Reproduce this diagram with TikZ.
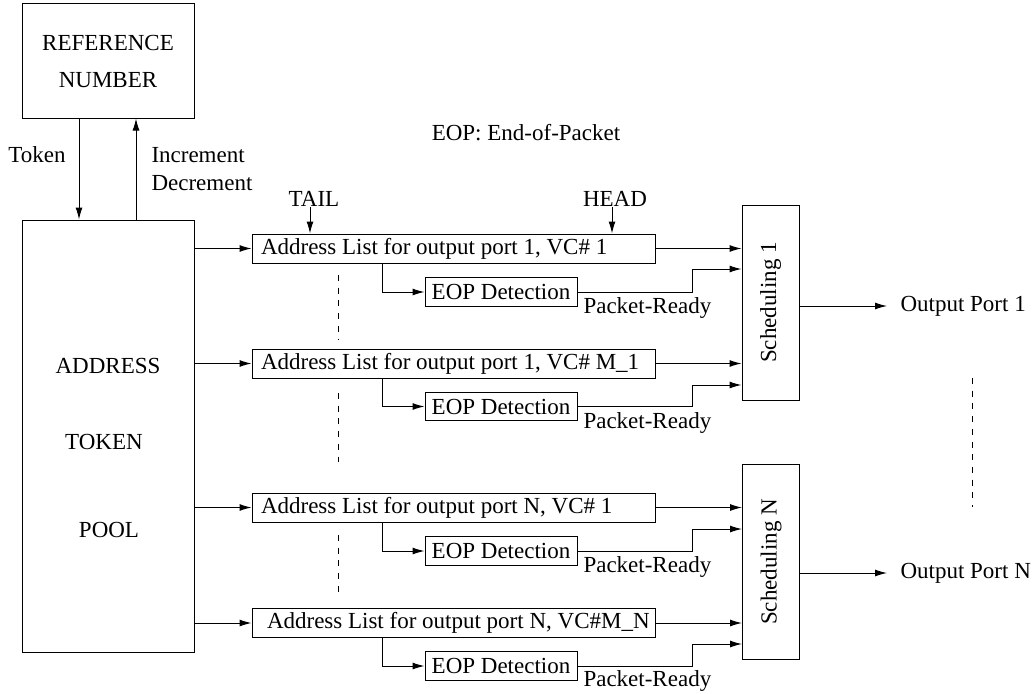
\documentclass[tikz,border=0pt]{standalone}
\usepackage{fontspec}
\setmainfont{Liberation Serif}
\usetikzlibrary{arrows.meta,calc}

\begin{document}
\begin{tikzpicture}[x=1pt,y=-1pt,
  font=\fontsize{23}{28}\selectfont,
  line width=1pt,
  box/.style={draw, inner sep=0pt},
  plain/.style={inner sep=0pt},
  alist/.style={box, minimum height=29pt},
  eopbox/.style={box, minimum width=152pt, minimum height=28.5pt},
  sched/.style={box, minimum width=57pt, minimum height=195pt},
  arr/.style={-{Latex[length=12pt,width=7pt]}},
  dashes/.style={dash pattern=on 6pt off 6.7pt}
]
\useasboundingbox (0,0) rectangle (1032,693);

% reference number and token pool
\node[box, minimum width=172pt, minimum height=114pt, align=center] (ref) at (108,61) {REFERENCE\\[9pt]NUMBER};
\node[box, minimum width=172pt, minimum height=432pt] (pool) at (108,436) {};
\node[plain] (paddr) at (108,366) {ADDRESS};
\node[plain] (ptok) at (104,442) {TOKEN};
\node[plain] (ppool) at (109,530) {POOL};

\node[plain] (tok) at (37,155) {Token};
\node[plain, anchor=west, align=left] (incdec) at (151,169) {Increment\\Decrement};

\coordinate (tk) at (79,0);
\coordinate (inc) at (136,0);
\draw[arr] (ref.south -| tk) -- (pool.north -| tk);
\draw[arr] (pool.north -| inc) -- (ref.south -| inc);

\node[plain] (note) at (526,133) {EOP: End-of-Packet};

% address lists
\node[alist] (al1) at (453.5,248.5) {\makebox[403pt][l]{\hspace{9pt}Address List for output port 1, VC\# 1}};
\node[alist] (al2) at (453.5,363.5) {\makebox[403pt][l]{\hspace{9pt}Address List for output port 1, VC\# M\_1}};
\node[alist] (al3) at (453.5,507.5) {\makebox[403pt][l]{\hspace{9pt}Address List for output port N, VC\# 1}};
\node[alist] (al4) at (453.5,623) {\makebox[403pt][l]{\hspace{15pt}Address List for output port N, VC\#M\_N}};

% end-of-packet detectors
\node[eopbox] (eop1) at (501,292) {EOP Detection};
\node[eopbox] (eop2) at (501,406.5) {EOP Detection};
\node[eopbox] (eop3) at (501,551) {EOP Detection};
\node[eopbox] (eop4) at (501,666) {EOP Detection};

\node[plain, anchor=west] (pr1) at (583,308) {Packet-Ready};
\node[plain, anchor=west] (pr2) at (583,423) {Packet-Ready};
\node[plain, anchor=west] (pr3) at (583,567) {Packet-Ready};
\node[plain, anchor=west] (pr4) at (583,681) {Packet-Ready};

% schedulers
\node[sched] (s1) at (770.5,302.5) {};
\node[plain, rotate=90] (s1t) at (s1.center) {Scheduling 1};
\node[sched] (sN) at (771,562) {};
\node[plain, rotate=90] (sNt) at (sN.center) {Scheduling N};

% tail and head pointers
\node[plain] (tail) at (314,199) {TAIL};
\node[plain] (head) at (615,199) {HEAD};
\coordinate (tx) at (310,0);
\coordinate (hx) at (612,0);
\draw[arr] (tail.south -| tx) -- (al1.north -| tx);
\draw[arr] (head.south -| hx) -- (al1.north -| hx);

% pool to lists, lists to detectors and schedulers
\coordinate (dx) at (382,0);
\coordinate (ux) at (692,0);
\coordinate (r1) at (s1.west |- 0,269);
\coordinate (r2) at (s1.west |- 0,385);
\coordinate (r3) at (sN.west |- 0,529);
\coordinate (r4) at (sN.west |- 0,644);

\foreach \i/\s in {1/s1,2/s1,3/sN,4/sN}{
  \draw[arr] (pool.east |- al\i) -- (al\i.west);
  \draw[arr] (al\i.south -| dx) |- (eop\i.west);
  \draw[arr] (al\i.east) -- (\s.west |- al\i);
  \draw[arr] (eop\i.east) -| (ux |- r\i) -- (r\i);
}

% outputs
\node[plain, anchor=west] (o1) at (900,306) {Output Port 1};
\node[plain, anchor=west] (oN) at (900,573) {Output Port N};
\draw[arr] (s1.east |- o1) -- ($(o1.west)+(-13,0)$);
\draw[arr] (sN.east |- oN) -- ($(oN.west)+(-13,0)$);

% ellipses between repeated entries
\draw[dashes] (338,275) -- (338,340);
\draw[dashes] (338,393) -- (338,462);
\draw[dashes] (338,535) -- (338,592);
\draw[dashes] (972,378) -- (972,507);
\end{tikzpicture}
\end{document}
